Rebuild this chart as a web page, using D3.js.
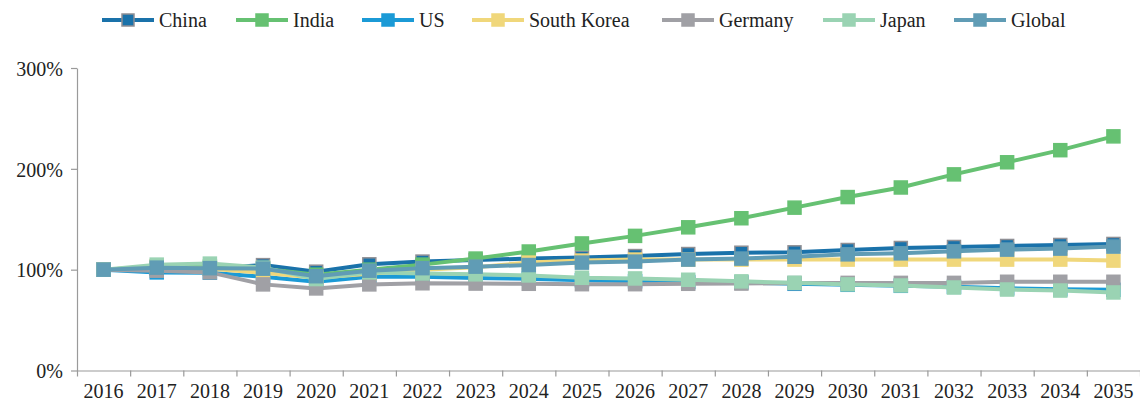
<!DOCTYPE html>
<html>
<head>
	<meta charset="utf-8">
	<script src="https://cdnjs.cloudflare.com/ajax/libs/d3/7.8.5/d3.min.js"></script>
	<style>
		body { margin: 0; background: #fff; }
	</style>
</head>
<body>
	<svg width="1140" height="405"></svg>
	<script>
		//categories and series (share of 2016 level)
		let years = d3.range(2016, 2036).map(String);
		let seriesNames = ["China", "India", "US", "South Korea", "Germany", "Japan", "Global"];
		let china  = [1.00, 1.01, 1.01, 1.045, 0.98, 1.053, 1.08, 1.095, 1.11, 1.12, 1.135, 1.155, 1.168, 1.172, 1.195, 1.215, 1.225, 1.235, 1.245, 1.255];
		let india  = [1.00, 1.03, 1.03, 1.01, 0.95, 1.00, 1.05, 1.11, 1.18, 1.26, 1.335, 1.42, 1.51, 1.615, 1.72, 1.815, 1.945, 2.065, 2.185, 2.322];
		let us     = [1.00, 0.973, 0.97, 0.93, 0.88, 0.93, 0.93, 0.917, 0.91, 0.895, 0.885, 0.877, 0.874, 0.86, 0.85, 0.84, 0.83, 0.815, 0.805, 0.80];
		let korea  = [1.00, 1.03, 1.01, 0.97, 0.92, 0.96, 1.00, 1.025, 1.07, 1.09, 1.10, 1.10, 1.10, 1.10, 1.10, 1.10, 1.10, 1.10, 1.10, 1.09];
		let germany= [1.00, 0.99, 0.973, 0.854, 0.814, 0.854, 0.865, 0.862, 0.86, 0.856, 0.856, 0.86, 0.862, 0.867, 0.869, 0.869, 0.869, 0.88, 0.88, 0.88];
		let japan  = [1.00, 1.05, 1.06, 1.02, 0.907, 0.973, 0.963, 0.954, 0.943, 0.92, 0.913, 0.90, 0.884, 0.87, 0.854, 0.843, 0.823, 0.803, 0.793, 0.774];
		let global = [1.00, 1.02, 1.015, 1.01, 0.935, 0.99, 1.015, 1.03, 1.046, 1.07, 1.08, 1.10, 1.11, 1.128, 1.152, 1.162, 1.182, 1.199, 1.209, 1.229];
		let yTicks = [0, 1, 2, 3];

		let values = [china, india, us, korea, germany, japan, global];
		let colors = ["#1a72aa", "#66c172", "#1b9ad6", "#f0d77b", "#a0a0a5", "#9ad3b3", "#609cb5"];
		let borders = ["#8f8f94", "#66c172", "#1b9ad6", "#f0d77b", "#a0a0a5", "#9ad3b3", "#609cb5"];
		let serif = "'Liberation Serif', Tinos, 'Times New Roman', Times, 'DejaVu Serif', serif";

		let svg = d3.select("svg");
		let plotLeft = 77, plotRight = 1140, plotTop = 68, plotBottom = 370.5;

		//scales
		let x = d3.scaleBand().domain(years).range([plotLeft, plotRight]);
		let xEdge = d3.scaleLinear().domain([0, years.length]).range([plotLeft, plotRight]);
		let y = d3.scaleLinear().domain([0, 3]).range([plotBottom, plotTop]);

		//y axis
		let yAxis = svg.append("g")
			.attr("transform", "translate(" + plotLeft + ",0)")
			.call(d3.axisLeft(y).tickValues(yTicks).tickFormat(d3.format(".0%")).tickSize(6).tickSizeOuter(0));
		yAxis.selectAll("text").attr("x", -14).attr("dy", "0.36em");

		//x axis ticks on band edges
		svg.append("g")
			.attr("transform", "translate(0," + plotBottom + ")")
			.call(d3.axisBottom(xEdge).ticks(years.length).tickFormat("").tickSize(6).tickSizeOuter(0));
		//x labels centred in bands
		svg.append("g")
			.attr("transform", "translate(0," + plotBottom + ")")
			.call(d3.axisBottom(x).tickSize(0).tickPadding(13))
			.call(g => g.select(".domain").remove());

		svg.selectAll(".domain, .tick line").attr("stroke", "#9a9a9a").attr("stroke-width", 1.2);

		//lines and markers
		let line = d3.line()
			.x(function(d, i) { return x(years[i]) + x.bandwidth() / 2; })
			.y(function(d) { return y(d); });

		let ms = 13;
		values.forEach(function(vals, k) {
			let g = svg.append("g");
			g.append("path")
				.datum(vals)
				.attr("fill", "none")
				.attr("stroke", colors[k])
				.attr("stroke-width", 4)
				.attr("d", line);
			g.selectAll("rect")
				.data(vals)
				.enter()
				.append("rect")
				.attr("x", function(d, i) { return x(years[i]) + x.bandwidth() / 2 - ms / 2; })
				.attr("y", function(d) { return y(d) - ms / 2; })
				.attr("width", ms)
				.attr("height", ms)
				.attr("fill", colors[k])
				.attr("stroke", borders[k])
				.attr("stroke-width", 1.5);
		});

		//legend
		let legendX = [102, 236, 362, 472, 662, 823, 954];
		let legend = svg.append("g")
			.selectAll("g")
			.data(seriesNames)
			.enter()
			.append("g")
			.attr("transform", function(d, i) { return "translate(" + legendX[i] + ",20)"; });
		legend.append("line")
			.attr("x1", 0).attr("x2", 52)
			.attr("stroke", function(d, i) { return colors[i]; })
			.attr("stroke-width", 4);
		legend.append("rect")
			.attr("x", 20).attr("y", -6)
			.attr("width", 12).attr("height", 12)
			.attr("fill", function(d, i) { return colors[i]; })
			.attr("stroke", function(d, i) { return borders[i]; })
			.attr("stroke-width", 1.5);
		legend.append("text")
			.attr("x", 57)
			.attr("dy", "0.33em")
			.text(function(d) { return d; });

		//all text in a Times-like face
		svg.selectAll("text")
			.style("font-family", serif)
			.style("font-size", "20px")
			.style("fill", "#222");
	</script>
</body>
</html>
